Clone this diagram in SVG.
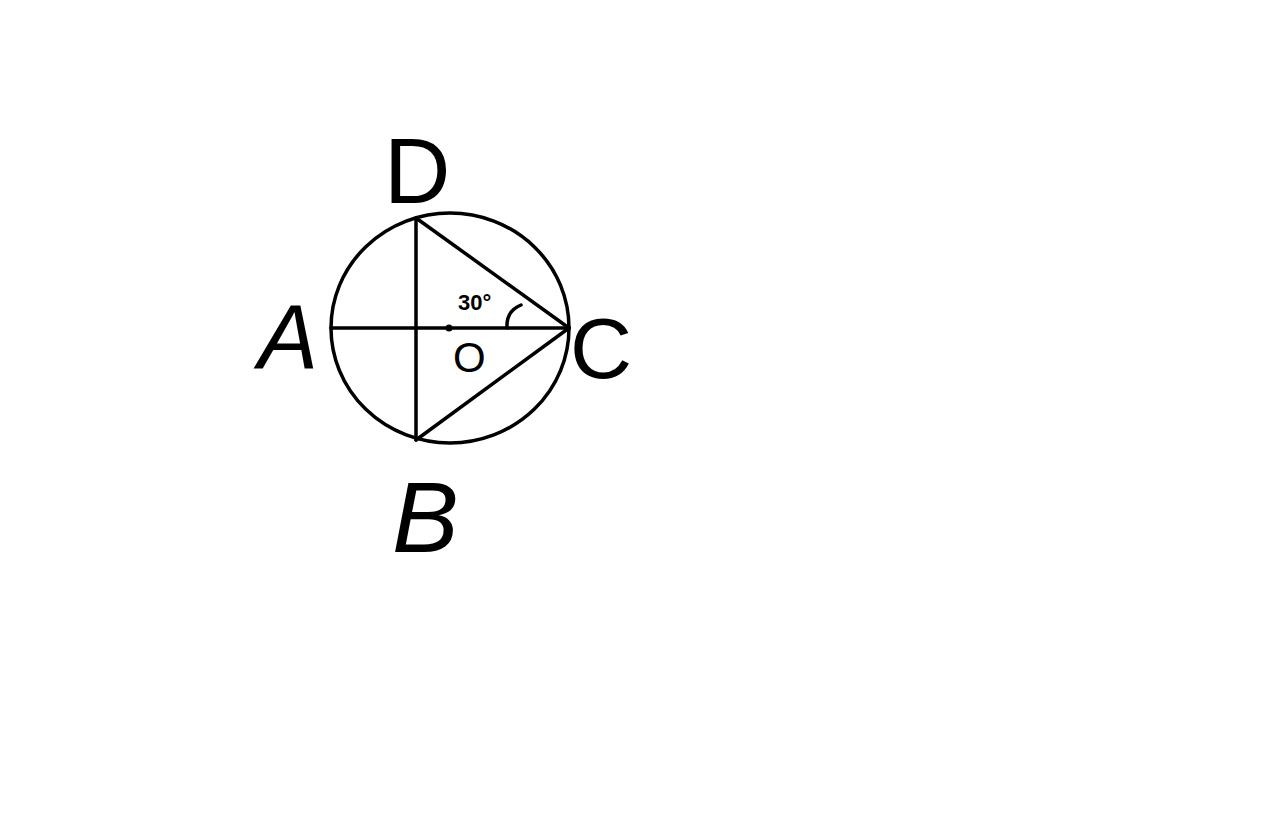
<svg xmlns="http://www.w3.org/2000/svg" width="1272" height="818" viewBox="0 0 1272 818">
<style>
.ln{stroke:#000;stroke-width:3.5;fill:none;stroke-linecap:round}
.lb{font-family:"Liberation Sans",Arial,sans-serif;fill:#000}
</style>
<rect width="1272" height="818" fill="#fff"/>
<g id="circle"><ellipse class="ln" cx="450" cy="328" rx="119" ry="115"/></g>
<g id="connectors">
<line class="ln" x1="331" y1="328" x2="569" y2="328"/>
<line class="ln" x1="416" y1="218" x2="416" y2="440"/>
<line class="ln" x1="416" y1="218" x2="569" y2="328"/>
<line class="ln" x1="416" y1="440" x2="569" y2="328"/>
<path class="ln" d="M507 328 Q506 311 521 305"/>
</g>
<g id="O"><circle cx="449" cy="328" r="3.5" fill="#000"/><text class="lb" x="453" y="372" font-size="42">O</text></g>
<g id="angle"><text class="lb" x="458" y="310" font-size="22" font-weight="bold">30°</text></g>
<g id="D"><text class="lb" x="384" y="203" font-size="92">D</text></g>
<g id="A"><text class="lb" x="258" y="368" font-size="90" font-style="italic">A</text></g>
<g id="C"><text class="lb" x="570" y="378" font-size="86">C</text></g>
<g id="B"><text class="lb" x="392" y="552" font-size="100" font-style="italic">B</text></g>
</svg>
